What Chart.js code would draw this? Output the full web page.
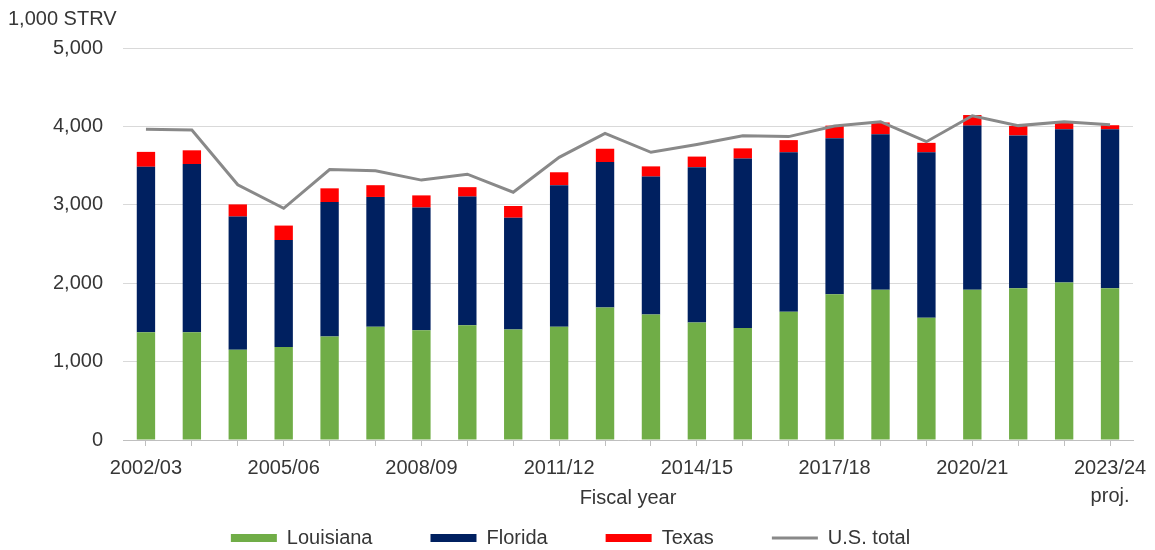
<!DOCTYPE html>
<html>
<head>
<meta charset="utf-8">
<script src="https://cdn.jsdelivr.net/npm/chart.js@4.4.0/dist/chart.umd.min.js"></script>
<style>
  html, body { margin: 0; padding: 0; background: #fff; }
  #wrap { width: 1155px; height: 550px; }
</style>
</head>
<body>
<div id="wrap"><canvas id="stockChart"></canvas></div>
<script>
  // fiscal years, 1,000 STRV
  const years = ['2002/03', '2003/04', '2004/05', '2005/06', '2006/07', '2007/08', '2008/09', '2009/10',
    '2010/11', '2011/12', '2012/13', '2013/14', '2014/15', '2015/16', '2016/17', '2017/18',
    '2018/19', '2019/20', '2020/21', '2021/22', '2022/23', '2023/24'];
  const louisiana = [1375, 1375, 1150, 1185, 1320, 1445, 1400, 1465, 1410, 1445, 1690,
    1600, 1500, 1430, 1635, 1860, 1915, 1560, 1915, 1935, 2010, 1935];
  const florida = [2110, 2145, 1700, 1365, 1715, 1655, 1565, 1640, 1425, 1805, 1855,
    1760, 1980, 2160, 2035, 1990, 1985, 2110, 2095, 1950, 1955, 2030];
  const texas = [190, 175, 155, 185, 175, 150, 155, 120, 150, 165, 170,
    130, 135, 130, 155, 160, 150, 120, 135, 120, 80, 50];
  const usTotal = [3965, 3955, 3255, 2955, 3450, 3435, 3315, 3390, 3160, 3605, 3910,
    3670, 3770, 3880, 3870, 4005, 4060, 3805, 4135, 4010, 4060, 4020];
  const yTicks = [0, 1000, 2000, 3000, 4000, 5000];

  const textColor = '#363636';
  Chart.defaults.font.family = '"Liberation Sans", Arial, sans-serif';
  Chart.defaults.font.size = 20;
  Chart.defaults.color = textColor;

  const ctx = document.getElementById('stockChart');

  new Chart(ctx, {
    data: {
      labels: years,
      datasets: [
        { type: 'bar', label: 'Louisiana', data: louisiana, backgroundColor: '#70ad47', stack: 'states', order: 1, pointStyle: 'rect' },
        { type: 'bar', label: 'Florida', data: florida, backgroundColor: '#002060', stack: 'states', order: 1, pointStyle: 'rect' },
        { type: 'bar', label: 'Texas', data: texas, backgroundColor: '#ff0000', stack: 'states', order: 1, pointStyle: 'rect' },
        { type: 'line', label: 'U.S. total', data: usTotal, borderColor: '#898989', backgroundColor: '#898989',
          borderWidth: 3, pointRadius: 0, tension: 0, stack: 'total', order: 0, pointStyle: 'line' }
      ]
    },
    options: {
      responsive: true,
      maintainAspectRatio: false,
      animation: false,
      layout: { padding: { left: 8, right: 22, top: 0, bottom: -8 } },
      datasets: { bar: { categoryPercentage: 1, barPercentage: 0.4 } },
      scales: {
        x: {
          stacked: true,
          offset: true,
          grid: { display: true, drawOnChartArea: false, offset: false, tickLength: 6, color: '#bfbfbf' },
          border: { color: '#bfbfbf' },
          ticks: {
            autoSkip: false,
            maxRotation: 0,
            padding: 8,
            font: { size: 20, lineHeight: 1.4 },
            callback: function (v, i) {
              if (i % 3 !== 0) return '';
              return i === years.length - 1 ? [years[i], 'proj.'] : years[i];
            }
          },
          title: { display: true, text: 'Fiscal year', font: { size: 20 }, padding: { top: -32, bottom: 10 } }
        },
        y: {
          stacked: true,
          min: 0,
          max: 5000,
          afterBuildTicks: function (scale) { scale.ticks = yTicks.map(v => ({ value: v })); },
          afterFit: function (scale) { scale.width = 115; },
          grid: { color: '#d9d9d9', drawTicks: false },
          border: { display: false },
          ticks: {
            padding: 20,
            callback: v => v.toLocaleString('en-US')
          }
        }
      },
      plugins: {
        title: {
          display: true,
          text: '1,000 STRV',
          align: 'start',
          font: { size: 20, weight: 'normal' },
          color: textColor,
          padding: { top: 7, bottom: 17 }
        },
        legend: {
          position: 'bottom',
          labels: {
            usePointStyle: true,
            pointStyleWidth: 46,
            boxHeight: 8,
            padding: 8,
            font: { size: 20 },
            generateLabels: function (chart) {
              const items = Chart.defaults.plugins.legend.labels.generateLabels(chart);
              items.sort((a, b) => a.datasetIndex - b.datasetIndex);
              // extra room after each entry except the last
              items.forEach((it, i) => { if (i < items.length - 1) it.text = it.text + '\u2003\u2003\u2002'; });
              return items;
            }
          }
        },
        tooltip: { enabled: false }
      }
    }
  });
</script>
</body>
</html>
